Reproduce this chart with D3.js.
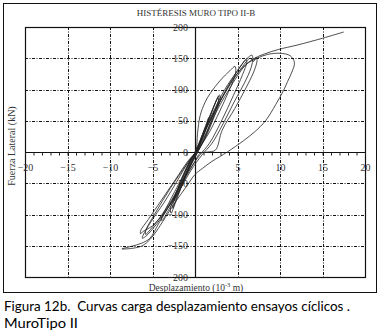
<!DOCTYPE html>
<html>
<head>
<meta charset="utf-8">
<script src="https://cdn.jsdelivr.net/npm/d3@7"></script>
<style>
  body { margin: 0; background: #fff; }
  svg { display: block; }
  .tick text { font-family: "Liberation Serif", "DejaVu Serif", serif; fill: #333; }
</style>
</head>
<body>
<svg id="chart"></svg>
<script>
// tick values
const xTicks = [-20, -15, -10, -5, 5, 10, 15, 20];
const yTicks = [-200, -150, -100, -50, 0, 50, 100, 150, 200];
const xGrid = [-15, -10, -5, 5, 10, 15];
const yGrid = [-150, -100, -50, 50, 100, 150];

// hysteresis path: displacement (10^-3 m) / lateral force (kN)
const disp = [
  0, 0.5, 1.2, 1.6, 1.5, 0.9, 0.2, -0.6, -1.2, -1.5, -1.3, -0.6, 0.1,
  0.8, 1.8, 2.6, 2.8, 2.8, 2.1, 1.1, 0.3, -0.7, -1.6, -2.2, -2.4, -2.4, -1.6, -0.5, 0.2,
  1.0, 2.0, 2.7, 2.9, 3.0, 2.4, 1.3, 0.4, -0.8, -1.8, -2.4, -2.6, -2.6, -1.8, -0.6, 0.2,
  1.1, 2.2, 2.7, 2.8, 2.4, 1.4, 0.4, -0.9, -2.0, -2.6, -2.8, -2.9, -2.0, -0.7, 0.1,
  0.3, 0.6, 1.2, 1.8, 3.0, 4.1, 4.7, 4.8, 4.6, 3.9, 2.9, 1.7, 0.6, 0, -1, -2.2, -3.2, -3.9, -3.9, -3.1, -1.8, -0.5, 0.2,
  0.8, 2, 3.5, 5, 6, 6.7, 6.8, 6.6, 5.8, 4.6, 3.3, 2.0, 0.8, -0.5, -2, -3.5, -5, -6.2, -6.4, -6.4, -5.5, -4.0, -2.3, -0.8, 0.2,
  1, 2.5, 4, 5.5, 6.5, 6.9, 7.2, 7.3, 6.9, 5.9, 4.7, 3.2, 2.4, 1.5, 0.6, 0, -1.5, -3, -4.5, -5.8, -6.2, -6.1, -5.2, -3.6, -2.0, -0.6, 0.3,
  1.2, 2.8, 4.3, 5.6, 6.0, 6.1, 5.6, 4.5, 3.2, 1.7, 0.5, -1.2, -2.8, -4.3, -5.5, -5.8, -5.8, -4.6, -2.9, -1.1, 0.2,
  1.5, 3, 4.5, 6, 7.3, 8.5, 10, 11.2, 11.7, 11.4, 10.9, 10.4, 9.5, 8.3, 7, 5.7, 3.8, 2, 0.9, 0, -1, -2.2, -3.5, -4.6, -5.3,
  -6.2, -7.3, -8.6, -7.5, -6.3, -5.3, -4.3, -3.2, -2, -1, 0, 1, 2, 3, 4, 5, 6, 7, 8.2, 9.8, 12, 15, 17.5
];
const force = [
  0, 15, 40, 55, 48, 22, 2, -20, -40, -50, -44, -18, 2,
  25, 60, 85, 90, 84, 58, 22, 0, -25, -55, -72, -78, -72, -45, -12, 3,
  30, 65, 88, 91, 86, 62, 25, 2, -30, -62, -82, -90, -84, -55, -16, 2,
  32, 72, 86, 84, 66, 30, 2, -32, -70, -92, -98, -92, -58, -18, 2,
  30, 58, 80, 94, 115, 130, 137, 130, 118, 95, 65, 32, 8, -5, -35, -70, -95, -110, -104, -82, -48, -12, 0,
  25, 60, 100, 130, 148, 155, 150, 135, 110, 80, 45, 14, -5, -30, -65, -95, -118, -128, -131, -126, -108, -78, -44, -14, 2,
  28, 70, 105, 135, 150, 145, 152, 146, 128, 100, 70, 35, 3, 0, -2, -15, -50, -85, -115, -135, -138, -133, -112, -80, -44, -12, 3,
  35, 78, 115, 142, 148, 144, 124, 90, 52, 14, -6, -40, -78, -108, -128, -132, -126, -96, -58, -22, 2,
  42, 82, 117, 140, 150, 156, 158, 154, 143, 128, 113, 98, 76, 50, 32, 18, 0, -15, -26, -36, -55, -78, -105, -128, -140,
  -150, -154, -155, -151, -146, -138, -115, -90, -60, -32, -5, 22, 50, 77, 100, 122, 140, 150, 157, 164, 171, 182, 192
];

const W = 381, H = 332;
const svg = d3.select("#chart").attr("width", W).attr("height", H);

// outer frame
svg.append("rect")
  .attr("x", 3.5).attr("y", 3.5).attr("width", 373).attr("height", 289)
  .attr("fill", "none").attr("stroke", "#111").attr("stroke-width", 1);

const x = d3.scaleLinear().domain([-20, 20]).range([25, 365]);
const y = d3.scaleLinear().domain([-200, 200]).range([277, 27]);

const serif = '"Liberation Serif", "DejaVu Serif", serif';

// title
svg.append("text")
  .attr("x", 196).attr("y", 16)
  .attr("text-anchor", "middle")
  .style("font-family", serif).style("font-size", "9px").style("fill", "#333")
  .text("HISTÉRESIS MURO TIPO II-B");

// grid (dash-dot)
const grid = svg.append("g").attr("stroke", "#111").attr("stroke-width", 1)
  .attr("stroke-dasharray", "3,1.5,1,1.5");
grid.selectAll("line.v").data(xGrid).join("line").attr("class", "v")
  .attr("x1", d => Math.round(x(d)) + 0.5).attr("x2", d => Math.round(x(d)) + 0.5)
  .attr("y1", y(200)).attr("y2", y(-200));
grid.selectAll("line.h").data(yGrid).join("line").attr("class", "h")
  .attr("y1", d => Math.round(y(d)) + 0.5).attr("y2", d => Math.round(y(d)) + 0.5)
  .attr("x1", x(-20)).attr("x2", x(20));

// plot border
svg.append("rect")
  .attr("x", x(-20) + 0.5).attr("y", y(200) + 0.5)
  .attr("width", x(20) - x(-20)).attr("height", y(-200) - y(200))
  .attr("fill", "none").attr("stroke", "#111").attr("stroke-width", 1.2);

// zero axes
svg.append("line")
  .attr("x1", x(-20)).attr("x2", x(20))
  .attr("y1", Math.round(y(0)) + 0.5).attr("y2", Math.round(y(0)) + 0.5)
  .attr("stroke", "#111").attr("stroke-width", 1.2);
svg.append("line")
  .attr("x1", Math.round(x(0)) + 0.5).attr("x2", Math.round(x(0)) + 0.5)
  .attr("y1", y(200)).attr("y2", y(-200))
  .attr("stroke", "#111").attr("stroke-width", 1.2);

// minor ticks on the x axis
const minor = svg.append("g")
  .attr("transform", "translate(0," + (Math.round(y(0)) + 0.5) + ")")
  .call(d3.axisBottom(x).tickValues(d3.range(-20, 21)).tickSize(3).tickFormat(""));
minor.select(".domain").remove();
minor.selectAll("line").attr("stroke", "#222");

// x tick labels
const xAxis = svg.append("g")
  .attr("transform", "translate(0," + y(0) + ")")
  .call(d3.axisBottom(x).tickValues(xTicks).tickSize(0).tickPadding(12));
xAxis.select(".domain").remove();
xAxis.selectAll("text").style("font-size", "10px");

// y tick labels
const yAxis = svg.append("g")
  .attr("transform", "translate(" + x(0) + ",0)")
  .call(d3.axisLeft(y).tickValues(yTicks).tickSize(0).tickPadding(7));
yAxis.select(".domain").remove();
yAxis.selectAll("text").style("font-size", "10px");

// hysteresis curve
const pts = disp.map((d, i) => [d, force[i]]);
const line = d3.line()
  .x(d => x(d[0]))
  .y(d => y(d[1]))
  .curve(d3.curveCatmullRom.alpha(0.5));
svg.append("path")
  .datum(pts)
  .attr("d", line)
  .attr("fill", "none")
  .attr("stroke", "#222")
  .attr("stroke-width", 0.8);

// axis titles
svg.append("text")
  .attr("transform", "translate(15,146) rotate(-90)")
  .attr("text-anchor", "middle")
  .style("font-family", serif).style("font-size", "10px").style("fill", "#333")
  .text("Fuerza Lateral (kN)");

const xl = svg.append("text")
  .attr("x", 196).attr("y", 291)
  .attr("text-anchor", "middle")
  .style("font-family", serif).style("font-size", "9.5px").style("fill", "#333");
xl.append("tspan").text("Desplazamiento (10");
xl.append("tspan").attr("dy", -4).style("font-size", "6.5px").text("-3");
xl.append("tspan").attr("dy", 4).text(" m)");

// caption
const sans = 'Lato, "Noto Sans", sans-serif';
svg.append("text")
  .attr("x", 4).attr("y", 311)
  .attr("textLength", 346).attr("lengthAdjust", "spacingAndGlyphs")
  .style("white-space", "pre")
  .style("font-family", sans).style("font-size", "13.5px").style("fill", "#000")
  .text("Figura 12b.  Curvas carga desplazamiento ensayos cíclicos .");
svg.append("text")
  .attr("x", 4).attr("y", 328)
  .attr("textLength", 74).attr("lengthAdjust", "spacingAndGlyphs")
  .style("font-family", sans).style("font-size", "13.5px").style("fill", "#000")
  .text("MuroTipo II");
</script>
</body>
</html>
